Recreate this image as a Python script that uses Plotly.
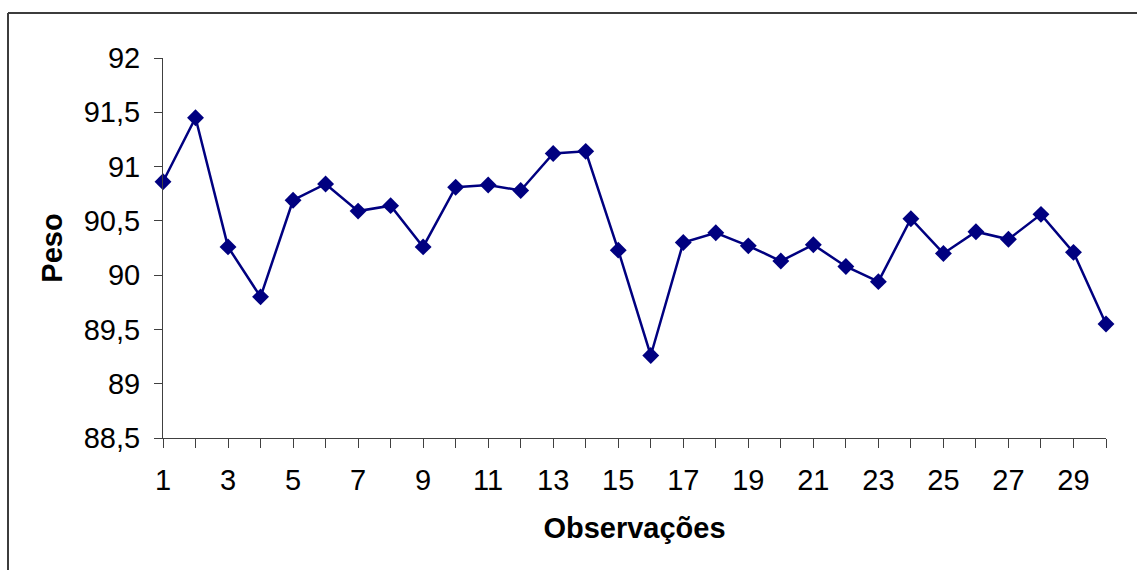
import plotly.graph_objects as go

# Observações (1..30) e respectivos pesos
observacoes = list(range(1, 31))
peso = [90.86, 91.45, 90.26, 89.80, 90.69, 90.84, 90.59, 90.64, 90.26, 90.81,
        90.83, 90.78, 91.12, 91.14, 90.23, 89.26, 90.30, 90.39, 90.27, 90.13,
        90.28, 90.08, 89.94, 90.52, 90.20, 90.40, 90.33, 90.56, 90.21, 89.55]

x_tick_vals = list(range(1, 31))
x_tick_text = [str(v) if v % 2 == 1 else "" for v in x_tick_vals]
y_tick_vals = [88.5, 89, 89.5, 90, 90.5, 91, 91.5, 92]
y_tick_text = ["88,5", "89", "89,5", "90", "90,5", "91", "91,5", "92"]

W, H = 1137, 570
L, R, T, B = 163, 31, 58, 132
FONT = "Liberation Sans, Arial, sans-serif"
NAVY = "#000080"
FS = 29

fig = go.Figure()
fig.add_trace(go.Scatter(
    x=observacoes, y=peso, mode="lines+markers",
    line=dict(color=NAVY, width=2.5),
    marker=dict(symbol="diamond", size=13, color=NAVY),
    cliponaxis=False, showlegend=False,
))

# outer chart frame (top and left edges visible)
pw, ph = W - L - R, H - T - B
def px_x(p):
    return (p - L) / pw
def px_y(p):
    return (H - B - p) / ph

frame_style = dict(type="line", xref="paper", yref="paper",
                   line=dict(color="#3c3c3c", width=2))
fig.add_shape(x0=px_x(8), x1=px_x(W + 5), y0=px_y(13), y1=px_y(13), **frame_style)
fig.add_shape(x0=px_x(8), x1=px_x(8), y0=px_y(13), y1=px_y(H + 5), **frame_style)

fig.update_layout(
    width=W, height=H,
    margin=dict(l=L, r=R, t=T, b=B),
    paper_bgcolor="white", plot_bgcolor="white",
    font=dict(family=FONT, size=FS, color="black"),
    xaxis=dict(
        range=[1, 30], tickvals=x_tick_vals, ticktext=x_tick_text,
        showgrid=False, zeroline=False,
        showline=True, linecolor="#404040", linewidth=1,
        ticks="outside", ticklen=9, tickcolor="#404040", tickwidth=1,
        ticklabelstandoff=7,
        title=dict(text="<b>Observações</b>", standoff=22,
                   font=dict(family=FONT, size=FS)),
    ),
    yaxis=dict(
        range=[88.5, 92], tickvals=y_tick_vals, ticktext=y_tick_text,
        showgrid=False, zeroline=False,
        showline=True, linecolor="#404040", linewidth=1,
        ticks="outside", ticklen=8, tickcolor="#404040", tickwidth=1,
        ticklabelstandoff=8,
        title=dict(text="<b>Peso</b>", standoff=12,
                   font=dict(family=FONT, size=FS)),
    ),
)

fig.write_html("out.html")
